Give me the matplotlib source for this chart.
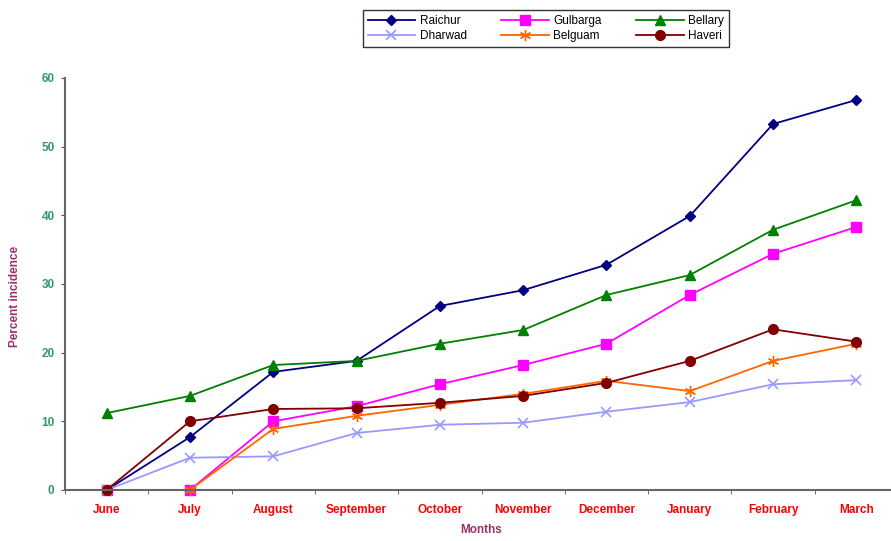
import matplotlib
matplotlib.use("Agg")
import matplotlib.pyplot as plt
import numpy as np

months = ["June", "July", "August", "September", "October",
          "November", "December", "January", "February", "March"]

raichur = [0, 7.7, 17.2, 18.8, 26.8, 29.1, 32.8, 39.9, 53.3, 56.8]
gulbarga = [0, 0, 10.0, 12.2, 15.4, 18.2, 21.3, 28.4, 34.4, 38.3]
bellary = [11.2, 13.7, 18.2, 18.8, 21.3, 23.3, 28.4, 31.3, 37.9, 42.2]
dharwad = [0, 4.7, 4.9, 8.3, 9.5, 9.8, 11.4, 12.8, 15.4, 16.0]
belguam = [0, 0, 8.9, 10.8, 12.4, 14.0, 15.9, 14.4, 18.8, 21.3]
haveri = [0, 10.0, 11.8, 11.9, 12.7, 13.7, 15.6, 18.8, 23.4, 21.6]

plt.rcParams["font.family"] = ["Liberation Sans", "DejaVu Sans"]

W, H = 891, 541
fig = plt.figure(figsize=(W / 100, H / 100), dpi=100)
ax = fig.add_axes([65 / W, (H - 490) / H, (898 - 65) / W, (490 - 78) / H])

x = np.arange(len(months))
series = [
    ("Raichur", raichur, "#000080", "D", 5, {}),
    ("Gulbarga", gulbarga, "#FF00FF", "s", 7, {}),
    ("Bellary", bellary, "#008000", "^", 7, {}),
    ("Dharwad", dharwad, "#9999FF", "x", 7, {"markeredgewidth": 1.2}),
    ("Belguam", belguam, "#FF6600", (6, 2, 0), 8, {"markeredgewidth": 1.0}),
    ("Haveri", haveri, "#800000", "o", 7, {}),
]
handles = {}
for name, vals, color, marker, ms, extra in series:
    (ln,) = ax.plot(x, vals, color=color, marker=marker, markersize=ms,
                    linewidth=1.3, label=name, clip_on=False, **extra)
    handles[name] = ln

ax.set_xlim(-0.5, 9.5)
ax.set_ylim(0, 60)
ax.set_yticks(range(0, 61, 10))
ax.set_xticks(x)
ax.set_xticklabels(months)
ax.set_xticks(np.arange(-0.5, 9.6, 1), minor=True)
ax.tick_params(axis="x", which="major", length=0, pad=10,
               labelcolor="#FF0000", labelsize=8.5)
ax.tick_params(axis="x", which="minor", length=3, color="#555555", direction="out")
ax.tick_params(axis="y", length=3, color="#555555", labelcolor="#339966",
               labelsize=8.5, pad=4.5)
for lbl in ax.get_xticklabels() + ax.get_yticklabels():
    lbl.set_fontweight("bold")

for side in ("top", "right"):
    ax.spines[side].set_visible(False)
for side in ("left", "bottom"):
    ax.spines[side].set_color("#666666")
    ax.spines[side].set_linewidth(1.5)

ax.set_xlabel("Months", color="#993366", fontweight="bold", fontsize=8.5)
ax.set_ylabel("Percent incidence", color="#993366", fontweight="bold", fontsize=8.5)
ax.xaxis.set_label_coords((481 - 65) / (898 - 65), -40 / 412)
ax.yaxis.set_label_coords((15 - 65) / (898 - 65), 0.47)
ax.yaxis.label.set_va("center")
ax.xaxis.label.set_va("center")

order = ["Raichur", "Dharwad", "Gulbarga", "Belguam", "Bellary", "Haveri"]
leg = fig.legend([handles[n] for n in order], order, ncol=3, mode="expand",
                 loc="lower left",
                 bbox_to_anchor=(363 / W, 1 - 47 / H, 366 / W, 43 / H),
                 fontsize=8.5, frameon=True, fancybox=False, borderaxespad=0,
                 handlelength=4, handletextpad=0.4, labelspacing=0.3,
                 borderpad=0.4)
leg.get_frame().set_edgecolor("black")
leg.get_frame().set_linewidth(1.0)

fig.savefig("out.png", dpi=100)
